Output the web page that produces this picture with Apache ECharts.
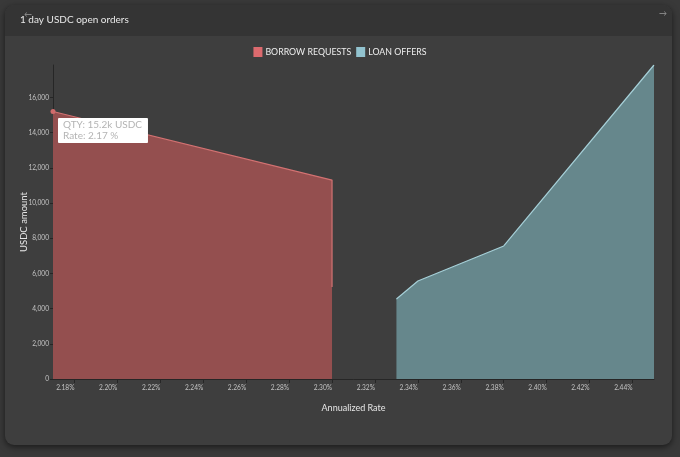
<!DOCTYPE html>
<html>
<head>
<meta charset="utf-8">
<script src="https://cdn.jsdelivr.net/npm/echarts@6/dist/echarts.min.js"></script>
<style>
  html, body { margin:0; padding:0; width:680px; height:457px; background:#393939; overflow:hidden; font-family: Lato, "Open Sans", sans-serif; }
  #card { position:absolute; left:5px; top:5px; width:667px; height:440px; background:#3e3e3e; border-radius:9px; box-shadow:0 2px 6px rgba(0,0,0,0.55); overflow:hidden; }
  #head { position:absolute; left:0; top:0; width:100%; height:31px; background:#343434; }
  #chart { position:absolute; left:0; top:0; width:680px; height:457px; }
</style>
</head>
<body>
<div id="card"><div id="head"></div></div>
<div id="chart"></div>
<script>
// ---- data ----
const titleText = "1 day USDC open orders";
const borrowName = "BORROW REQUESTS";
const loanName = "LOAN OFFERS";
const borrowRate = [2.17, 2.30, 2.30];
const borrowQty  = [15200, 11300, 5230];
const loanRate = [2.33, 2.34, 2.38, 2.45];
const loanQty  = [4550, 5570, 7560, 17840];
const xTicks = [2.18, 2.20, 2.22, 2.24, 2.26, 2.28, 2.30, 2.32, 2.34, 2.36, 2.38, 2.40, 2.42, 2.44];
const yTicks = [0, 2000, 4000, 6000, 8000, 10000, 12000, 14000, 16000];
const tipText = ["QTY: 15.2k USDC", "Rate: 2.17 %"];

const borrowData = borrowRate.map((r, i) => [r, borrowQty[i]]);
const loanData = loanRate.map((r, i) => [r, loanQty[i]]);

const chart = echarts.init(document.getElementById('chart'), null, { renderer: 'canvas' });
const FONT = 'Lato, "Open Sans", sans-serif';
const axisDark = '#262626';

chart.setOption({
  animation: false,
  backgroundColor: 'transparent',
  textStyle: { fontFamily: FONT },
  title: [
    { text: titleText, left: 15, top: 10, textStyle: { color: '#e8e8e8', fontSize: 10, fontWeight: 'normal', fontFamily: FONT } },
    { text: '\u2190', left: 19, top: 5, textStyle: { color: '#9a9a9a', fontSize: 8, fontWeight: 'normal' } },
    { text: '\u2192', left: 654, top: 4, textStyle: { color: '#9a9a9a', fontSize: 8, fontWeight: 'normal' } }
  ],
  legend: {
    top: 42, left: 'center',
    icon: 'rect', itemWidth: 9, itemHeight: 10, itemGap: 5,
    textStyle: { color: '#eeeeee', fontSize: 8.8, fontFamily: FONT, padding: [0, 0, 0, -2] },
    data: [
      { name: borrowName, itemStyle: { color: '#dc6a6e' } },
      { name: loanName, itemStyle: { color: '#92c3cf' } }
    ]
  },
  grid: { left: 53, right: 26, top: 65, bottom: 78, outerBoundsMode: 'none', containLabel: false },
  xAxis: {
    type: 'value', min: 2.17, max: 2.45,
    name: 'Annualized Rate', nameLocation: 'middle', nameGap: 25, nameMoveOverlap: false,
    nameTextStyle: { color: '#e6e6e6', fontSize: 9 },
    axisLine: { show: true, lineStyle: { color: axisDark, width: 1 } },
    axisTick: { show: true, customValues: xTicks, length: 4, lineStyle: { color: axisDark } },
    axisLabel: {
      customValues: xTicks, color: '#c4c4c4', fontSize: 6.6, align: 'right', margin: 5,
      formatter: v => v.toFixed(2) + '%'
    },
    splitLine: { show: false }
  },
  yAxis: {
    type: 'value', min: 0, max: 'dataMax',
    name: 'USDC amount', nameLocation: 'middle', nameGap: 24, nameRotate: 90, nameMoveOverlap: false,
    nameTextStyle: { color: '#e6e6e6', fontSize: 9.5 },
    axisLine: { show: true, lineStyle: { color: axisDark, width: 1 } },
    axisTick: { show: true, customValues: yTicks, length: 3, lineStyle: { color: axisDark } },
    axisLabel: {
      customValues: yTicks, color: '#c4c4c4', fontSize: 6.6, margin: 4,
      formatter: v => v.toLocaleString('en-US')
    },
    splitLine: { show: false }
  },
  series: [
    {
      name: borrowName, type: 'line', data: borrowData,
      symbol: 'none', z: 2,
      itemStyle: { color: '#dc6a6e' },
      lineStyle: { color: '#d27272', width: 1.2 },
      areaStyle: { color: '#944f4f', opacity: 1 },
      markPoint: {
        symbol: 'circle', symbolSize: 5,
        itemStyle: { color: '#d06c6c' },
        data: [{ coord: borrowData[0] }],
        label: {
          show: true, position: [7.5, 9], align: 'left', verticalAlign: 'top',
          formatter: tipText.join('\n'),
          color: '#b4b4b4', fontSize: 10, lineHeight: 10.5, fontFamily: FONT,
          backgroundColor: '#ffffff', padding: [2, 6, 2, 5], borderRadius: 1
        }
      }
    },
    {
      name: loanName, type: 'line', data: loanData,
      symbol: 'none', z: 2,
      itemStyle: { color: '#92c3cf' },
      lineStyle: { color: '#a6d0d8', width: 1.2 },
      areaStyle: { color: '#66878c', opacity: 1 }
    }
  ]
});
</script>
</body>
</html>
